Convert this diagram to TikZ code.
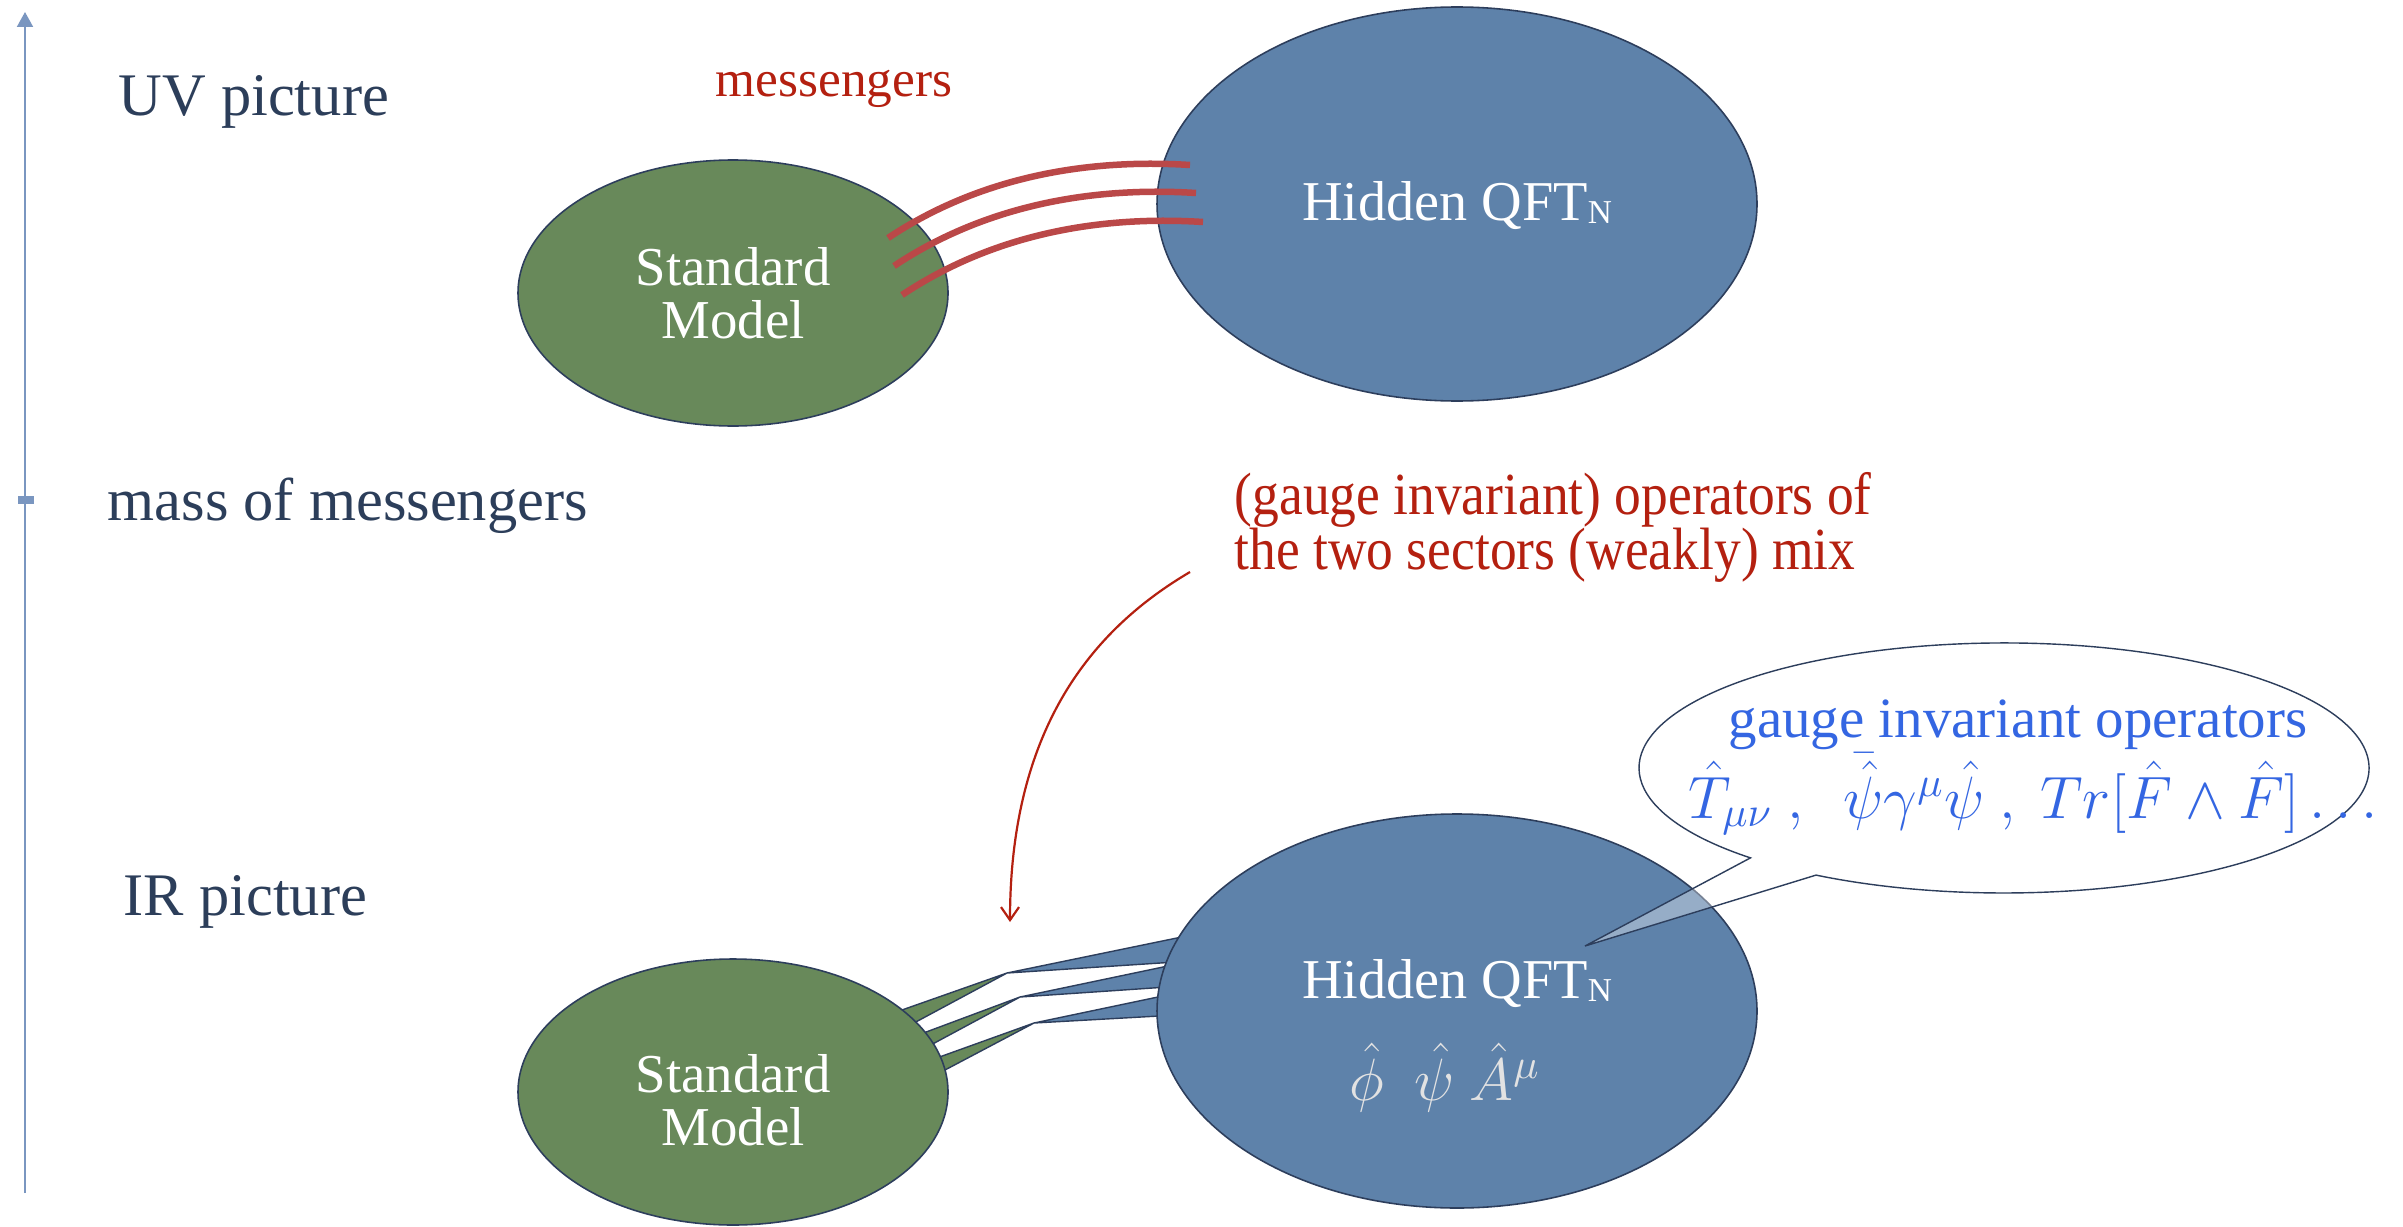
\RequirePackage{fix-cm}
\documentclass[tikz,border=0pt]{standalone}
\usepackage{fontspec}
\setmainfont{Liberation Serif}
\newfontfamily\condfont[FakeStretch=0.895]{Liberation Serif}
\usetikzlibrary{arrows.meta,shapes.geometric}
\definecolor{smgreen}{RGB}{104,137,90}
\definecolor{qftblue}{RGB}{94,130,170}
\definecolor{edgecol}{RGB}{45,62,92}
\definecolor{messred}{RGB}{186,72,72}
\definecolor{redtext}{RGB}{180,32,16}
\definecolor{bubblue}{RGB}{52,102,226}
\definecolor{labelcol}{RGB}{44,62,90}
\definecolor{axiscol}{RGB}{122,150,192}
\definecolor{fieldgray}{RGB}{226,226,226}
\begin{document}
\begin{tikzpicture}[x=0.1mm,y=-0.1mm,
  lbl/.style={inner sep=0pt,anchor=base west,text=labelcol,font=\fontsize{17.2}{20}\selectfont},
  redlbl/.style={inner sep=0pt,anchor=base west,text=redtext,font=\fontsize{14.6}{17}\selectfont},
  mixlbl/.style={inner sep=0pt,anchor=base west,text=redtext,font=\condfont\fontsize{17}{20}\selectfont},
  smtext/.style={inner sep=0pt,text=white,align=center,font=\fontsize{15.6}{15.1}\selectfont},
  qfttext/.style={inner sep=0pt,anchor=base,text=white,font=\fontsize{16}{19}\selectfont},
  bubtext/.style={inner sep=0pt,anchor=base,text=bubblue,font=\fontsize{16.2}{19}\selectfont},
  gell/.style={ellipse,draw=edgecol,line width=0.45pt,fill=smgreen,minimum width=43mm,minimum height=26.6mm,inner sep=0pt},
  bell/.style={ellipse,draw=edgecol,line width=0.45pt,fill=qftblue,minimum width=60mm,minimum height=39.4mm,inner sep=0pt},
  gwedge/.style={fill=smgreen,draw=edgecol,line width=0.4pt,line join=miter},
  bwedge/.style={fill=qftblue,draw=edgecol,line width=0.4pt,line join=miter},
  messenger/.style={draw=messred,line width=0.65mm},
  axisline/.style={draw=axiscol,line width=0.2mm,-{Triangle[length=1.5mm,width=1.6mm]}},
  tickmark/.style={rectangle,fill=axiscol,minimum width=1.6mm,minimum height=0.8mm,inner sep=0pt},
  redarrow/.style={draw=redtext,line width=0.22mm,-{Straight Barb[length=1.3mm,width=1.8mm]}},
  bubble/.style={draw=edgecol,line width=0.4pt,fill=white,fill opacity=0.35,line join=miter}]
\useasboundingbox (0,0) rectangle (2403,1226);
\fill[white] (0,0) rectangle (2403,1226);

% energy axis
\coordinate (axbot) at (25,1193);
\coordinate (axtop) at (25,12);
\draw[axisline] (axbot) -- (axtop);
\node[tickmark] (tick) at (26,500) {};

% IR connectors (wedges)
\coordinate (k1) at (1007,973);
\coordinate (k2) at (1020,997);
\coordinate (k3) at (1034,1023);
\coordinate (g1a) at (882,1017); \coordinate (g1b) at (899,1031);
\coordinate (g2a) at (902,1041); \coordinate (g2b) at (914,1054);
\coordinate (g3a) at (920,1064); \coordinate (g3b) at (926,1080);
\coordinate (b1a) at (1206,932); \coordinate (b1b) at (1191,961);
\coordinate (b2a) at (1187,962); \coordinate (b2b) at (1182,986);
\coordinate (b3a) at (1177,993); \coordinate (b3b) at (1177,1015);
\filldraw[gwedge] (k1) -- (g1a) -- (g1b) -- cycle;
\filldraw[gwedge] (k2) -- (g2a) -- (g2b) -- cycle;
\filldraw[gwedge] (k3) -- (g3a) -- (g3b) -- cycle;
\filldraw[bwedge] (k1) -- (b1a) -- (b1b) -- cycle;
\filldraw[bwedge] (k2) -- (b2a) -- (b2b) -- cycle;
\filldraw[bwedge] (k3) -- (b3a) -- (b3b) -- cycle;

% ellipses
\node[gell] (smUV) at (733,293) {};
\node[bell] (qftUV) at (1457,204) {};
\node[gell] (smIR) at (733,1092) {};
\node[bell] (qftIR) at (1457,1011) {};

% messengers (UV)
\coordinate (m1s) at (888,238); \coordinate (m1e) at (1190,165);
\coordinate (m2s) at (894,266); \coordinate (m2e) at (1196,193);
\coordinate (m3s) at (902,295); \coordinate (m3e) at (1203,222);
\draw[messenger] (m1s) .. controls +(87,-58) and +(-110,-7) .. (m1e);
\draw[messenger] (m2s) .. controls +(87,-58) and +(-110,-7) .. (m2e);
\draw[messenger] (m3s) .. controls +(87,-58) and +(-110,-7) .. (m3e);

% red arrow
\coordinate (arrs) at (1190,572);
\coordinate (arre) at (1010,922);
\draw[redarrow] (arrs) .. controls (1100,625) and (1010,720) .. (arre);

% speech bubble
\coordinate (tip) at (1585,946);
\coordinate (bstart) at (1816.0,875.1);
\draw[bubble] (bstart) arc[start angle=121,end angle=-226,x radius=365,y radius=125] -- (tip) -- cycle;

% texts
\node[lbl] (uvlabel) at (118,116) {UV picture};
\node[lbl] (masslabel) at (107,520) {mass of messengers};
\node[lbl] (irlabel) at (123,915) {IR picture};
\node[redlbl] (messlabel) at (715,97) {messengers};
\node[mixlbl] (mix1) at (1234,514) {(gauge invariant) operators of};
\node[mixlbl] (mix2) at (1234,569) {the two sectors (weakly) mix};
\node[smtext] (smUVtext) at (733,293) {Standard\\Model};
\node[smtext] (smIRtext) at (733,1100) {Standard\\Model};
\node[qfttext] (qftUVtext) at (1457,220) {Hidden QFT\raisebox{-1pt}{\fontsize{9.5}{9.5}\selectfont N}};
\node[qfttext] (qftIRtext) at (1457,998) {Hidden QFT\raisebox{-1pt}{\fontsize{9.5}{9.5}\selectfont N}};
\node[inner sep=0pt,anchor=base,text=fieldgray,font=\fontsize{17}{20}\selectfont] (fields) at (1445,1100) {$\hat{\phi}\ \ \hat{\psi}\ \hat{A}^{\mu}$};
\node[bubtext] (bubline1) at (2018,737) {gauge invariant operators};
\node[bubtext,font=\fontsize{17}{20}\selectfont] (bubline2) at (2033,818) {$\hat{T}_{\mu\nu}\ ,\ \ \bar{\hat{\psi}}\gamma^{\mu}\hat{\psi}\ ,\ Tr[\hat{F}\wedge\hat{F}]\ldots$};
\end{tikzpicture}
\end{document}
